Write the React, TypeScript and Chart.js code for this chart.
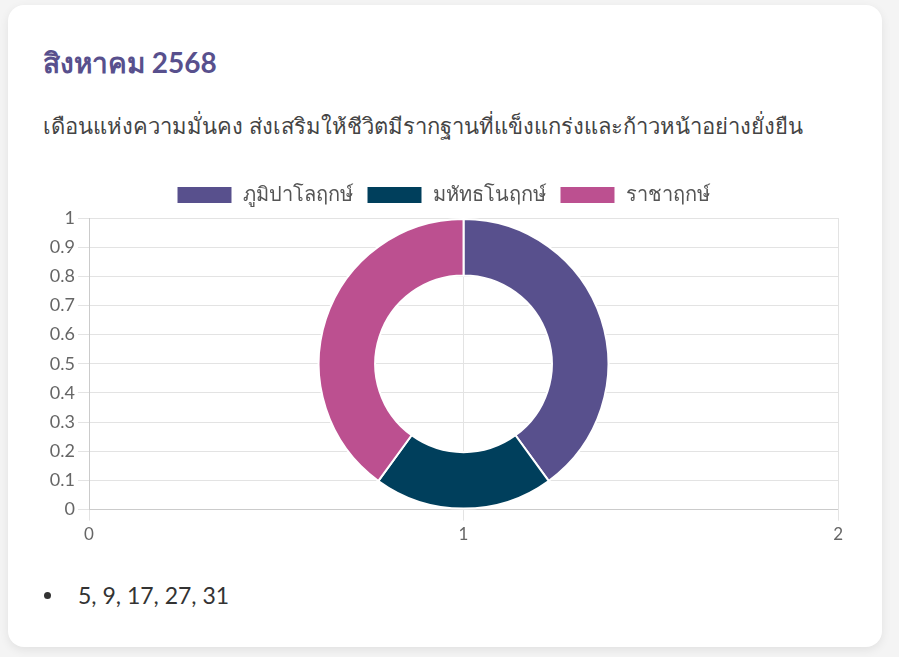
import React, { useEffect, useRef } from "react";
import Chart from "chart.js/auto";

const monthTitle = "สิงหาคม 2568";
const monthText =
  "เดือนแห่งความมั่นคง ส่งเสริมให้ชีวิตมีรากฐานที่แข็งแกร่งและก้าวหน้าอย่างยั่งยืน";
const signLabels = ["ภูมิปาโลฤกษ์", "มหัทธโนฤกษ์", "ราชาฤกษ์"];
const signValues = [2, 1, 2];
const signColors = ["#58508d", "#003f5c", "#bc5090"];
const goodDays = [5, 9, 17, 27, 31];

const FONT = "Lato, 'Noto Sans', sans-serif";

// a little air between the legend and the plot
const legendGap = {
  id: "legendGap",
  beforeInit(chart: any) {
    const fit = chart.legend.fit;
    chart.legend.fit = function () {
      fit.bind(chart.legend)();
      this.height += 3;
    };
  },
};

const DonutCard: React.FC = () => {
  const canvasRef = useRef<HTMLCanvasElement | null>(null);

  useEffect(() => {
    const ctx = canvasRef.current?.getContext("2d");
    if (!ctx) return;

    const chart = new Chart(ctx, {
      type: "doughnut",
      data: {
        labels: signLabels,
        datasets: [
          {
            data: signValues,
            backgroundColor: signColors,
            borderColor: "#ffffff",
            borderWidth: 2,
          },
        ],
      },
      options: {
        animation: false,
        responsive: true,
        maintainAspectRatio: false,
        cutout: "61%",
        layout: { padding: { right: 4 } },
        plugins: {
          legend: {
            display: true,
            position: "top",
            labels: {
              boxWidth: 56,
              boxHeight: 18,
              padding: 14,
              color: "#555",
              font: { family: FONT, size: 20 },
            },
          },
          tooltip: { enabled: false },
        },
        scales: {
          x: {
            type: "linear",
            display: true,
            min: 0,
            max: 2,
            ticks: {
              stepSize: 1,
              padding: 4,
              color: "#666",
              font: { family: FONT, size: 17 },
            },
            grid: { color: "#e3e3e3", tickLength: 11 },
          },
          y: {
            type: "linear",
            display: true,
            min: 0,
            max: 1,
            afterFit: (scale: any) => {
              scale.width = 46;
            },
            ticks: {
              stepSize: 0.1,
              padding: 3,
              color: "#666",
              font: { family: FONT, size: 18 },
              callback: (v) => String(Math.round(Number(v) * 10) / 10),
            },
            grid: { color: "#e3e3e3", tickLength: 11 },
          },
        },
      },
      plugins: [legendGap],
    });

    return () => chart.destroy();
  }, []);

  return (
    <div
      style={{
        position: "absolute",
        left: 8,
        top: 5,
        width: 874,
        height: 642,
        boxSizing: "border-box",
        padding: "40px 35px 0 35px",
        background: "#ffffff",
        borderRadius: 16,
        boxShadow: "0 3px 10px rgba(0,0,0,0.08)",
        fontFamily: FONT,
      }}
    >
      <h2
        style={{
          margin: 0,
          fontSize: 28,
          lineHeight: "34px",
          fontWeight: 700,
          color: "#58508d",
        }}
      >
        {monthTitle}
      </h2>
      <p style={{ margin: "32px 0 0 0", fontSize: 22, lineHeight: "30px", color: "#444" }}>
        {monthText}
      </p>
      <div style={{ position: "relative", height: 378, marginTop: 30 }}>
        <canvas ref={canvasRef} />
      </div>
      <ul
        style={{
          margin: "31px 0 0 0",
          padding: 0,
          listStyle: "none",
          fontSize: 23,
          lineHeight: "30px",
          color: "#333",
        }}
      >
        <li style={{ position: "relative", paddingLeft: 35 }}>
          <span
            style={{
              position: "absolute",
              left: 1,
              top: 12,
              width: 7,
              height: 7,
              borderRadius: "50%",
              background: "#333",
            }}
          />
          {goodDays.join(", ")}
        </li>
      </ul>
    </div>
  );
};

const App: React.FC = () => {
  return (
    <div>
      <style>{`body{margin:0;background:#f4f4f4;}`}</style>
      <DonutCard />
    </div>
  );
};

export default App;
